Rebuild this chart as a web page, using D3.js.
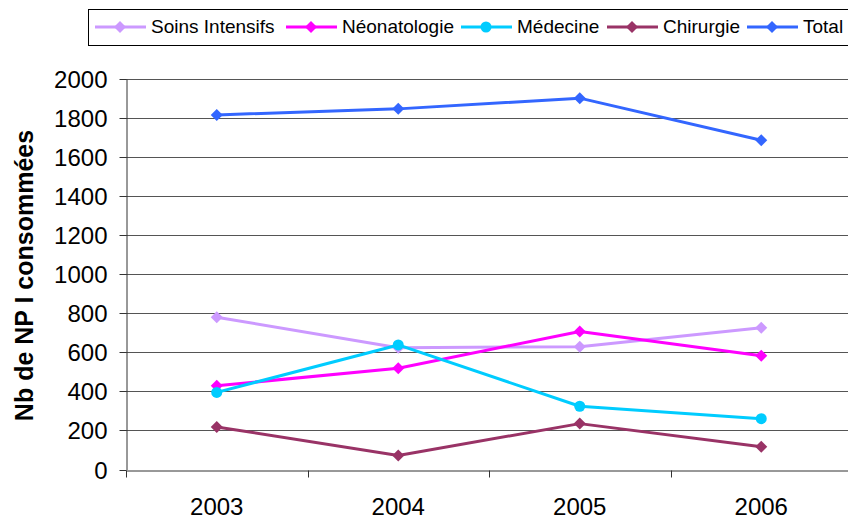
<!DOCTYPE html>
<html>
<head>
<meta charset="utf-8">
<script src="https://cdn.jsdelivr.net/npm/d3@7"></script>
<style>
  html, body { margin: 0; padding: 0; background: #fff; }
  svg { display: block; font-family: "Liberation Sans", Arial, sans-serif; }
</style>
</head>
<body>
<svg id="chart" width="848" height="521"></svg>
<script>
const years = ["2003", "2004", "2005", "2006"];
const seriesNames = ["Soins Intensifs", "Néonatologie", "Médecine", "Chirurgie", "Total"];
const soinsIntensifs = [780, 624, 629, 726];
const neonatologie = [429, 519, 707, 583];
const medecine = [395, 638, 324, 260];
const chirurgie = [218, 72, 235, 116];
const total = [1816, 1847, 1902, 1686];
const yTicks = [0, 200, 400, 600, 800, 1000, 1200, 1400, 1600, 1800, 2000];
const colors = ["#CC99FF", "#FF00FF", "#00CCFF", "#993366", "#3366FF"];
const markers = ["diamond", "diamond", "circle", "diamond", "diamond"];
const yTitle = "Nb de NP I consommées";

(function () {
const values = [soinsIntensifs, neonatologie, medecine, chirurgie, total];
const series = seriesNames.map((name, i) => ({ name, values: values[i], color: colors[i], marker: markers[i] }));

const svg = d3.select("#chart");
const pLeft = 126, pRight = 852, pTop = 79, pBottom = 469.5;

const x = d3.scaleBand().domain(years).range([pLeft, pRight]);
const y = d3.scaleLinear().domain([0, 2000]).range([pBottom, pTop]);

// gridlines
svg.append("g").selectAll("line").data(yTicks.filter(d => d > 0)).join("line")
  .attr("x1", pLeft).attr("x2", 848)
  .attr("y1", d => Math.round(y(d)) + 0.5).attr("y2", d => Math.round(y(d)) + 0.5)
  .attr("stroke", "#555").attr("stroke-width", 1);

// y axis
const yAxis = d3.axisLeft(y).tickValues(yTicks).tickFormat(d3.format("d"))
  .tickSize(7).tickPadding(12).tickSizeOuter(0);
const gy = svg.append("g").attr("transform", `translate(${pLeft + 0.5},0)`).call(yAxis);
gy.select(".domain").attr("stroke", "#333");
gy.selectAll(".tick line").attr("stroke", "#333");
gy.selectAll(".tick").attr("transform", d => `translate(0,${Math.round(y(d)) + 0.5})`);
gy.selectAll(".tick text").attr("font-size", 24).attr("fill", "#000")
  .attr("font-family", "'Liberation Sans', Arial, sans-serif").attr("dy", "0.36em");

// x axis
const xAxis = d3.axisBottom(x).tickSize(0).tickPadding(0).tickSizeOuter(0);
const gx = svg.append("g").attr("transform", `translate(0,${Math.round(pBottom) + 0.5})`).call(xAxis);
gx.select(".domain").attr("stroke", "#333");
gx.selectAll(".tick text").attr("font-size", 24).attr("fill", "#000")
  .attr("font-family", "'Liberation Sans', Arial, sans-serif")
  .attr("dy", null).attr("y", 44);
const bounds = years.map(d => x(d)).concat([x(years[years.length - 1]) + x.bandwidth()]);
gx.append("g").selectAll("line").data(bounds).join("line")
  .attr("x1", d => Math.round(d) + 0.5).attr("x2", d => Math.round(d) + 0.5)
  .attr("y1", 0).attr("y2", 7).attr("stroke", "#333");

// y title
svg.append("text")
  .attr("transform", `translate(33,${(126 + 425) / 2}) rotate(-90)`)
  .attr("text-anchor", "middle")
  .attr("font-size", 25).attr("font-weight", "bold").attr("fill", "#000")
  .text(yTitle);

const cx = d => x(d) + x.bandwidth() / 2;
const line = d3.line().x((v, i) => cx(years[i])).y(v => y(v));
const diamond = (s) => `M0,${-s}L${s},0L0,${s}L${-s},0Z`;

function drawMarker(g, type, color) {
  if (type === "circle") {
    g.append("circle").attr("r", 5.5).attr("fill", color);
  } else {
    g.append("path").attr("d", diamond(6)).attr("fill", color);
  }
}

series.forEach(s => {
  const g = svg.append("g");
  g.append("path").attr("d", line(s.values)).attr("fill", "none")
    .attr("stroke", s.color).attr("stroke-width", 3).attr("stroke-linejoin", "round");
  s.values.forEach((v, i) => {
    const m = g.append("g").attr("transform", `translate(${cx(years[i])},${y(v)})`);
    drawMarker(m, s.marker, s.color);
  });
});

// legend
const legend = svg.append("g");
legend.append("rect").attr("x", 88.5).attr("y", 9.5).attr("width", 780).attr("height", 36)
  .attr("fill", "#fff").attr("stroke", "#000").attr("stroke-width", 1);
const legendX = [95, 286, 461, 607, 747];
series.forEach((s, i) => {
  const lx = legendX[i];
  const g = legend.append("g").attr("transform", `translate(${lx},27)`);
  g.append("line").attr("x1", 0).attr("x2", 51).attr("y1", 0).attr("y2", 0)
    .attr("stroke", s.color).attr("stroke-width", 3);
  const m = g.append("g").attr("transform", "translate(25,0)");
  drawMarker(m, s.marker, s.color);
  g.append("text").attr("x", 56).attr("y", 5.5).attr("font-size", 19).attr("fill", "#000").text(s.name);
});
})();
</script>
</body>
</html>
